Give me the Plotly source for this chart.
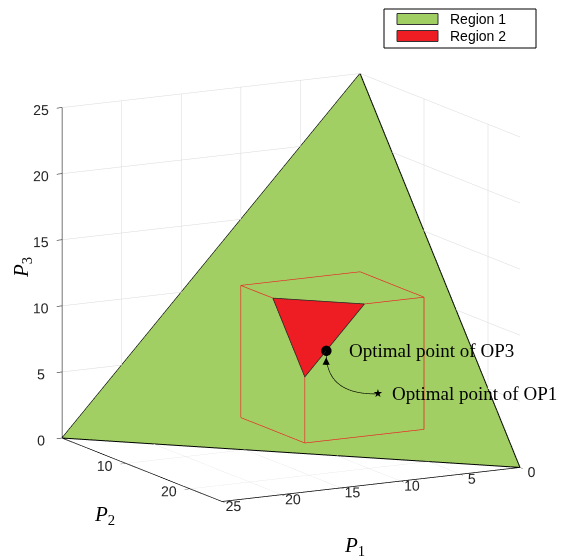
import numpy as np
import plotly.graph_objects as go

# ---------------- data ----------------
plane_total = 25                      # region 1: P1 + P2 + P3 = 25
region1_P1 = [25, 0, 0]
region1_P2 = [0, 25, 0]
region1_P3 = [0, 0, 25]
box_lo, box_hi = 0, 10                # red box [0,10]^3
region2_P1 = [10, 5, 10]              # plane cut of the box corner
region2_P2 = [5, 10, 10]
region2_P3 = [10, 10, 5]
op3_point = [8.2, 10.0, 6.8]
op1_point = [6.3, 14.5, 4.2]
curve_ctrl = [9.3, 11.8, 3.9]
p1_ticks = [0, 5, 10, 15, 20, 25]
p2_ticks = [0, 10, 20]
p3_ticks = [0, 5, 10, 15, 20, 25]

GREEN = "#A2CF63"
RED = "#EE1D23"

lo, hi = box_lo, box_hi
cut = plane_total - 2 * hi
cube_segments = [
    [(hi, lo, lo), (hi, lo, hi)],
    [(lo, hi, lo), (lo, hi, hi)],
    [(hi, hi, lo), (hi, hi, cut)],
    [(hi, lo, lo), (hi, hi, lo)],
    [(hi, hi, lo), (lo, hi, lo)],
    [(hi, lo, hi), (lo, lo, hi)],
    [(lo, lo, hi), (lo, hi, hi)],
    [(hi, lo, hi), (hi, cut, hi)],
    [(lo, hi, hi), (cut, hi, hi)],
]
cx, cy, cz = [], [], []
for a, b in cube_segments:
    cx += [a[0], b[0], None]
    cy += [a[1], b[1], None]
    cz += [a[2], b[2], None]

flat = dict(ambient=1, diffuse=0, specular=0, roughness=1, fresnel=0)
fig = go.Figure()

# scene 1: axes + green plane
fig.add_trace(go.Mesh3d(x=region1_P1, y=region1_P2, z=region1_P3, i=[0], j=[1], k=[2],
                        color=GREEN, opacity=1, flatshading=True, lighting=flat,
                        hoverinfo="skip", showscale=False, scene="scene"))
fig.add_trace(go.Scatter3d(x=region1_P1 + region1_P1[:1], y=region1_P2 + region1_P2[:1],
                           z=region1_P3 + region1_P3[:1], mode="lines",
                           line=dict(color="black", width=2), hoverinfo="skip",
                           showlegend=False, scene="scene"))

# scene 2: red box + red region
fig.add_trace(go.Scatter3d(x=cx, y=cy, z=cz, mode="lines", line=dict(color=RED, width=1.3),
                           hoverinfo="skip", showlegend=False, scene="scene2"))
fig.add_trace(go.Mesh3d(x=region2_P1, y=region2_P2, z=region2_P3, i=[0], j=[1], k=[2],
                        color=RED, opacity=1, flatshading=True, lighting=flat,
                        hoverinfo="skip", showscale=False, scene="scene2"))

# scene 3: outlines, points, arrow
fig.add_trace(go.Scatter3d(x=region2_P1 + region2_P1[:1], y=region2_P2 + region2_P2[:1],
                           z=region2_P3 + region2_P3[:1], mode="lines",
                           line=dict(color="#222222", width=1.5), hoverinfo="skip",
                           showlegend=False, scene="scene3"))
t = np.linspace(0, 1, 40)
P0, C, P2 = np.array(op1_point), np.array(curve_ctrl), np.array(op3_point)
curve = ((1 - t) ** 2)[:, None] * P0 + (2 * t * (1 - t))[:, None] * C + (t ** 2)[:, None] * P2
fig.add_trace(go.Scatter3d(x=curve[:, 0], y=curve[:, 1], z=curve[:, 2], mode="lines",
                           line=dict(color="black", width=1.3), hoverinfo="skip",
                           showlegend=False, scene="scene3"))
fig.add_trace(go.Scatter3d(x=[op3_point[0]], y=[op3_point[1]], z=[op3_point[2]], mode="markers",
                           marker=dict(color="black", size=6), hoverinfo="skip",
                           showlegend=False, scene="scene3"))

eye_dir = np.array([0.462, 0.861, 0.213])
eye = eye_dir / np.linalg.norm(eye_dir) * 2.0
camera = dict(eye=dict(x=eye[0], y=eye[1], z=eye[2]), center=dict(x=0, y=0, z=0),
              up=dict(x=0, y=0, z=1), projection=dict(type="orthographic"))
domain = dict(x=[0.014, 1.0], y=[0.0, 0.982])
ZOOM = 1.255

tickfont = dict(family="Liberation Sans, Arial", size=13, color="#262626")
serif = "Liberation Serif, Times New Roman"


def ax(ticks, visible=True):
    if not visible:
        return dict(range=[0, 25], visible=False, showgrid=False, showbackground=False,
                    showspikes=False, zeroline=False, showline=False, showticklabels=False,
                    title=dict(text=""))
    return dict(range=[0, 25], tickvals=ticks, ticktext=[str(v) for v in ticks],
                tickfont=tickfont, title=dict(text=""), tickangle=0,
                showbackground=False, showgrid=True, gridcolor="#d9d9d9", gridwidth=1,
                showline=True, linecolor="black", linewidth=1.5, zeroline=False,
                ticks="outside", ticklen=6, tickcolor="black", showspikes=False)


common = dict(domain=domain, camera=camera, aspectmode="manual",
              aspectratio=dict(x=ZOOM, y=ZOOM, z=ZOOM), bgcolor="rgba(0,0,0,0)", dragmode=False)

annots = [
    dict(x=op3_point[0], y=op3_point[1], z=op3_point[2], text="", showarrow=True,
         arrowhead=2, arrowsize=1.2, arrowwidth=1.2, arrowcolor="black", ax=0, ay=16, standoff=7),
    dict(x=op3_point[0], y=op3_point[1], z=op3_point[2], text="Optimal point of OP3",
         showarrow=False, xanchor="left", xshift=21, yshift=0,
         font=dict(family=serif, size=19, color="black")),
    dict(x=op1_point[0], y=op1_point[1], z=op1_point[2], text="★", showarrow=False,
         font=dict(family="DejaVu Sans", size=11, color="black")),
    dict(x=op1_point[0], y=op1_point[1], z=op1_point[2], text="Optimal point of OP1",
         showarrow=False, xanchor="left", xshift=12, yshift=0,
         font=dict(family=serif, size=19, color="black")),
]

# page body has an 8px margin: figure sized so it fits the window
W, H = 558, 549
OFF = 8


def px(x): return (x - OFF) / W
def py(y): return 1 - (y - OFF) / H


fig.update_layout(
    width=W, height=H, margin=dict(l=0, r=0, t=0, b=0),
    paper_bgcolor="white", plot_bgcolor="white", showlegend=False,
    scene=dict(**common, xaxis=ax(p1_ticks), yaxis=ax(p2_ticks), zaxis=ax(p3_ticks)),
    scene2=dict(**common, xaxis=ax([], False), yaxis=ax([], False), zaxis=ax([], False)),
    scene3=dict(**common, xaxis=ax([], False), yaxis=ax([], False), zaxis=ax([], False),
                annotations=annots),
)

# axis titles
for txt, x, y, ang in [("<i>P</i><sub>1</sub>", 354, 546, 0),
                       ("<i>P</i><sub>2</sub>", 104, 515, 0),
                       ("<i>P</i><sub>3</sub>", 22, 268, -90)]:
    fig.add_annotation(xref="paper", yref="paper", x=px(x), y=py(y), text=txt, showarrow=False,
                       textangle=ang, xanchor="center", yanchor="middle",
                       font=dict(family=serif, size=21, color="black"))

# legend (box with swatches)
fig.add_shape(type="rect", xref="paper", yref="paper", x0=px(384), x1=px(536), y0=py(48), y1=py(9),
              line=dict(color="black", width=1), fillcolor="white")
for name, col, yc in [("Region 1", GREEN, 19), ("Region 2", RED, 36)]:
    fig.add_shape(type="rect", xref="paper", yref="paper", x0=px(397), x1=px(438),
                  y0=py(yc + 5.5), y1=py(yc - 5.5), line=dict(color="#333333", width=1), fillcolor=col)
    fig.add_annotation(xref="paper", yref="paper", x=px(448), y=py(yc), text=name, showarrow=False,
                       xanchor="left", yanchor="middle",
                       font=dict(family="Liberation Sans, Arial", size=14, color="black"))

fig.write_html("out.html")
